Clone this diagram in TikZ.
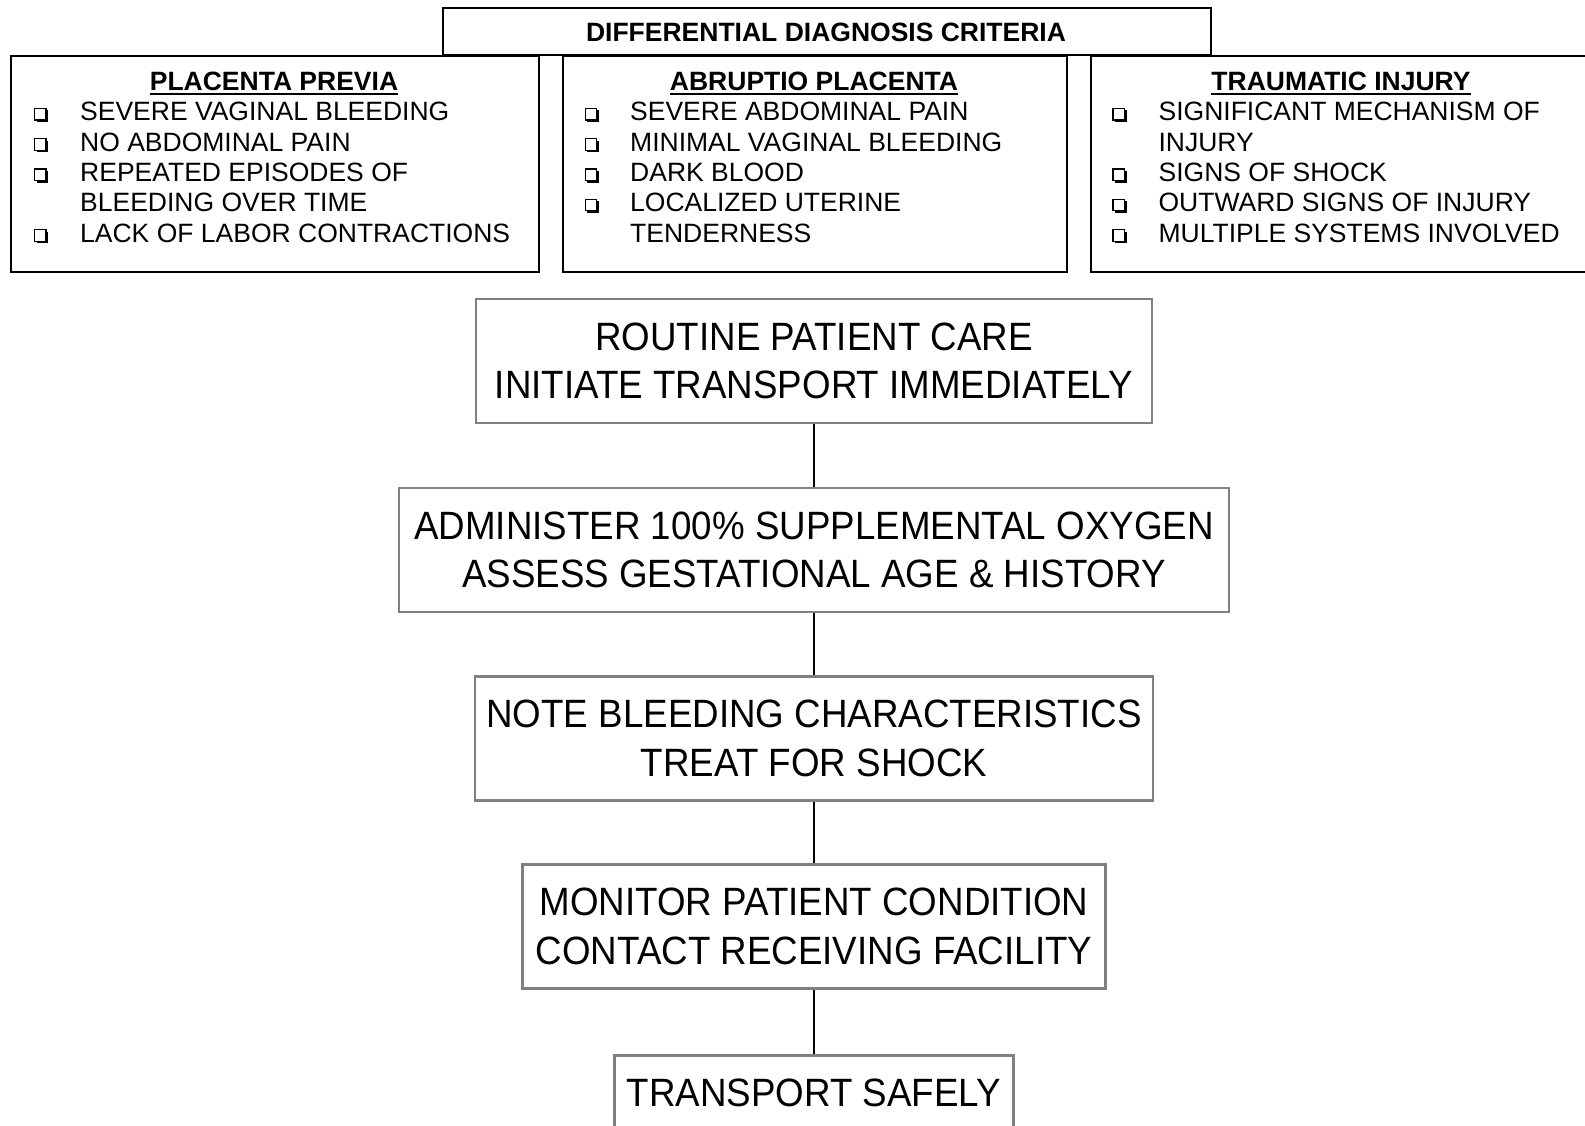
\documentclass[tikz,border=0pt]{standalone}
\usepackage{fontspec}
\setmainfont{Liberation Sans}
\newfontfamily\flowfont[FakeStretch=0.93]{Liberation Sans}
\definecolor{flowgray}{RGB}{128,128,128}
\begin{document}
\begin{tikzpicture}[x=1pt,y=-1pt,
  critbox/.style={draw=black,line width=2pt,inner sep=0pt,anchor=north west},
  flowbox/.style={draw=flowgray,line width=2.5pt,inner sep=0pt,align=center,
    minimum height=124pt,font=\flowfont\fontsize{39.5}{48.5}\selectfont},
  itemtext/.style={inner sep=0pt,anchor=base west,font=\fontsize{26.5}{30.3}\selectfont},
  headtext/.style={inner sep=0pt,anchor=base,font=\bfseries\fontsize{26.5}{30.3}\selectfont},
  link/.style={draw=black,line width=2pt}]
\useasboundingbox (0,0) rectangle (1585,1126);

% shadowed checkbox bullet sitting on a baseline
\newcommand\chkbox[2]{%
  \fill[black] (#1-4,#2-10.5) rectangle (#1+7.5,#2+1);
  \filldraw[fill=white,draw=black,line width=1.2pt] (#1-6,#2-12.5) rectangle (#1+5.5,#2-1);}

% criteria panels
\node[critbox,minimum width=768pt,minimum height=47pt] (hdr) at (442,7) {};
\node[headtext] (hdrt) at (826,42) {DIFFERENTIAL DIAGNOSIS CRITERIA};
\node[critbox,minimum width=528pt,minimum height=216pt] (pp) at (10,55) {};
\node[critbox,minimum width=504pt,minimum height=216pt] (ap) at (562,55) {};
\node[critbox,minimum width=502pt,minimum height=216pt] (ti) at (1090,55) {};

\node[headtext] (pph) at (274,90.5) {PLACENTA PREVIA};
\node[headtext] (aph) at (814,90.5) {ABRUPTIO PLACENTA};
\node[headtext] (tih) at (1341,90.5) {TRAUMATIC INJURY};
\foreach \h in {pph,aph,tih}
  \draw[line width=1.9pt] ([yshift=-3.5pt]\h.base west) -- ([yshift=-3.5pt]\h.base east);

\foreach \i/\b/\t in {1/1/SEVERE VAGINAL BLEEDING,2/1/NO ABDOMINAL PAIN,
    3/1/REPEATED EPISODES OF,4/0/BLEEDING OVER TIME,5/1/LACK OF LABOR CONTRACTIONS}{
  \node[itemtext] (pp\i) at (80,121+30.3*\i-30.3) {\t};
  \ifnum\b=1 \chkbox{40.5}{121+30.3*\i-30.3}\fi}
\foreach \i/\b/\t in {1/1/SEVERE ABDOMINAL PAIN,2/1/MINIMAL VAGINAL BLEEDING,
    3/1/DARK BLOOD,4/1/LOCALIZED UTERINE,5/0/TENDERNESS}{
  \node[itemtext] (ap\i) at (630,121+30.3*\i-30.3) {\t};
  \ifnum\b=1 \chkbox{591.3}{121+30.3*\i-30.3}\fi}
\foreach \i/\b/\t in {1/1/SIGNIFICANT MECHANISM OF,2/0/INJURY,
    3/1/SIGNS OF SHOCK,4/1/OUTWARD SIGNS OF INJURY,5/1/MULTIPLE SYSTEMS INVOLVED}{
  \node[itemtext] (ti\i) at (1158.4,121+30.3*\i-30.3) {\t};
  \ifnum\b=1 \chkbox{1119}{121+30.3*\i-30.3}\fi}

% treatment flow
\node[flowbox,minimum width=676pt] (s1) at (814,361) {ROUTINE PATIENT CARE\\INITIATE TRANSPORT IMMEDIATELY};
\node[flowbox,minimum width=830pt] (s2) at (814,550) {ADMINISTER 100\% SUPPLEMENTAL OXYGEN\\ASSESS GESTATIONAL AGE \& HISTORY};
\node[flowbox,minimum width=678pt] (s3) at (814,738.5) {NOTE BLEEDING CHARACTERISTICS\\TREAT FOR SHOCK};
\node[flowbox,minimum width=583pt] (s4) at (814,926.5) {MONITOR PATIENT CONDITION\\CONTACT RECEIVING FACILITY};
\node[flowbox,minimum width=399pt,anchor=north] (s5) at (814,1054) {TRANSPORT SAFELY\\\phantom{T}};

\draw[link] (s1.south) -- (s2.north);
\draw[link] (s2.south) -- (s3.north);
\draw[link] (s3.south) -- (s4.north);
\draw[link] (s4.south) -- (s5.north);
\end{tikzpicture}
\end{document}
